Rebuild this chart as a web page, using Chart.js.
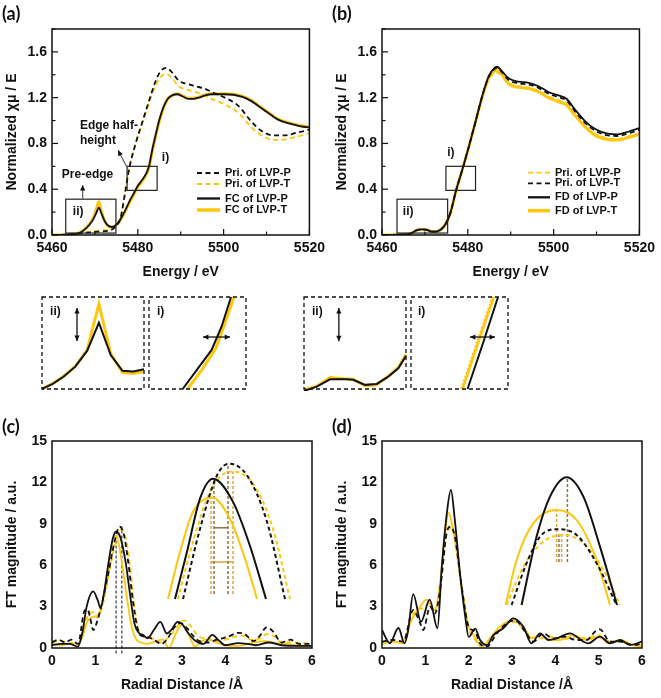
<!DOCTYPE html>
<html>
<head>
<meta charset="utf-8">
<script src="https://cdn.jsdelivr.net/npm/chart.js@4.4.0/dist/chart.umd.min.js"></script>
<style>
  body { margin: 0; background: #fff; }
  #fig { position: relative; width: 661px; height: 698px; background: #fff; overflow: hidden; }
  canvas { position: absolute; }
  .lab { position: absolute; font: bold 18px Lato, "Liberation Sans", sans-serif; color: #111; line-height: 20px; }
</style>
</head>
<body>
<div id="fig">
  <canvas id="ca" width="330" height="285" style="left:0px;top:0px"></canvas>
  <canvas id="cb" width="330" height="285" style="left:330px;top:0px"></canvas>
  <canvas id="ia2" width="106" height="96" style="left:40px;top:295px"></canvas>
  <canvas id="ia1" width="101" height="96" style="left:147px;top:295px"></canvas>
  <canvas id="ib2" width="106" height="96" style="left:302px;top:295px"></canvas>
  <canvas id="ib1" width="101" height="96" style="left:409px;top:295px"></canvas>
  <canvas id="cc" width="330" height="278" style="left:0px;top:420px"></canvas>
  <canvas id="cd" width="330" height="278" style="left:330px;top:420px"></canvas>
  <canvas id="cz" width="140" height="160" style="left:160px;top:450px"></canvas>
  <canvas id="dz" width="140" height="150" style="left:490px;top:465px"></canvas>
  <div class="lab" style="left:2px;top:3px">(a)</div>
  <div class="lab" style="left:332px;top:3px">(b)</div>
  <div class="lab" style="left:2px;top:416px">(c)</div>
  <div class="lab" style="left:332px;top:416px">(d)</div>
</div>
<script>
// ---------- (a) XANES: pristine vs fully charged
const aPriE = [5460, 5464, 5468, 5471, 5473.5, 5475, 5476, 5477, 5478, 5479.5, 5481, 5482.6, 5484.2, 5485.3, 5486.6, 5488, 5489.5, 5491.5, 5493.4, 5495.5, 5497.2, 5500.3, 5503.4, 5506.5, 5508.8, 5511.8, 5514.2, 5517.2, 5520]
const aPriP = [0, 0.005, 0.02, 0.03, 0.04, 0.08, 0.15, 0.36, 0.58, 0.80, 0.98, 1.17, 1.35, 1.43, 1.46, 1.42, 1.35, 1.32, 1.30, 1.28, 1.25, 1.20, 1.13, 0.99, 0.91, 0.87, 0.87, 0.895, 0.92]
const aPriT = [0, 0.005, 0.025, 0.04, 0.05, 0.09, 0.16, 0.37, 0.59, 0.80, 0.97, 1.15, 1.31, 1.38, 1.41, 1.37, 1.30, 1.27, 1.25, 1.22, 1.19, 1.14, 1.07, 0.94, 0.87, 0.83, 0.835, 0.86, 0.89]
const aFcE = [5460, 5464, 5466.5, 5468, 5469.5, 5470.3, 5470.9, 5471.5, 5472.3, 5473, 5474, 5475, 5476, 5477, 5478, 5479, 5480, 5481, 5482, 5482.6, 5483.4, 5484.2, 5484.9, 5486, 5487, 5488, 5489.2, 5490.5, 5491.8, 5493, 5494.2, 5495.7, 5497.2, 5500.3, 5504.2, 5506.5, 5508, 5509.5, 5511, 5512.6, 5515.7, 5518, 5520]
const aFcP = [0, 0.005, 0.02, 0.06, 0.13, 0.19, 0.24, 0.19, 0.12, 0.085, 0.07, 0.09, 0.14, 0.21, 0.29, 0.36, 0.43, 0.48, 0.54, 0.60, 0.75, 0.88, 0.99, 1.12, 1.19, 1.22, 1.23, 1.21, 1.19, 1.19, 1.20, 1.22, 1.23, 1.23, 1.21, 1.17, 1.13, 1.09, 1.05, 1.01, 0.97, 0.95, 0.94]
const aFcT = [0, 0.005, 0.02, 0.065, 0.14, 0.22, 0.29, 0.21, 0.12, 0.08, 0.065, 0.085, 0.135, 0.20, 0.28, 0.35, 0.42, 0.47, 0.53, 0.59, 0.74, 0.87, 0.98, 1.11, 1.19, 1.22, 1.235, 1.215, 1.195, 1.195, 1.205, 1.225, 1.235, 1.235, 1.215, 1.175, 1.135, 1.095, 1.055, 1.015, 0.975, 0.955, 0.945]

// ---------- (b) XANES: pristine vs fully discharged
const bE = [5460, 5464, 5466.5, 5468, 5469.3, 5470.5, 5471.5, 5472.6, 5473.8, 5474.9, 5476, 5477.2, 5478.8, 5480.3, 5481.8, 5483.4, 5484.9, 5486.1, 5486.8, 5488, 5489.5, 5491.8, 5494.2, 5496.5, 5498.8, 5501.1, 5503, 5504.9, 5507.2, 5509.5, 5512.6, 5514.9, 5517.2, 5520]
const bPriP = [0, 0.002, 0.01, 0.04, 0.05, 0.045, 0.03, 0.03, 0.05, 0.1, 0.2, 0.38, 0.58, 0.78, 0.99, 1.21, 1.36, 1.41, 1.42, 1.39, 1.33, 1.30, 1.29, 1.26, 1.21, 1.18, 1.15, 1.06, 0.96, 0.89, 0.845, 0.84, 0.86, 0.89]
const bPriT = [0, 0.002, 0.01, 0.04, 0.05, 0.045, 0.03, 0.03, 0.05, 0.1, 0.2, 0.38, 0.58, 0.78, 0.99, 1.22, 1.385, 1.445, 1.46, 1.42, 1.355, 1.325, 1.315, 1.285, 1.235, 1.205, 1.175, 1.085, 0.985, 0.915, 0.87, 0.865, 0.885, 0.92]
const bFdP = [0, 0.002, 0.01, 0.04, 0.05, 0.045, 0.03, 0.03, 0.05, 0.1, 0.2, 0.38, 0.58, 0.78, 0.99, 1.22, 1.39, 1.455, 1.47, 1.43, 1.37, 1.34, 1.33, 1.30, 1.25, 1.22, 1.19, 1.10, 1.00, 0.93, 0.885, 0.88, 0.90, 0.935]
const bFdT = [0, 0.002, 0.01, 0.04, 0.05, 0.045, 0.03, 0.03, 0.05, 0.1, 0.2, 0.38, 0.58, 0.78, 0.99, 1.21, 1.37, 1.43, 1.44, 1.40, 1.32, 1.29, 1.28, 1.25, 1.20, 1.165, 1.135, 1.05, 0.95, 0.875, 0.835, 0.83, 0.85, 0.88]

// ---------- zoomed boxes under (a) and (b)
const ia2E = [5465.5, 5466.5, 5467.5, 5468.6, 5469.7, 5470.8, 5471.9, 5473.0, 5474.0, 5475.0]
const ia2P = [0.064, 0.077, 0.096, 0.123, 0.165, 0.240, 0.154, 0.112, 0.110, 0.116]
const ia2T = [0.064, 0.078, 0.097, 0.124, 0.167, 0.290, 0.158, 0.107, 0.105, 0.110]
const ia1PE = [5479.93, 5480.94, 5482.02, 5482.74, 5483.42]
const ia1TE = [5480.29, 5481.30, 5482.33, 5482.98, 5483.63]
const ia1PV = [0.40, 0.441, 0.485, 0.536, 0.60]
const ia1TV = [0.40, 0.441, 0.489, 0.543, 0.60]
const ib2E = [5463, 5464.5, 5466.06, 5468.02, 5468.8, 5470.18, 5471.55, 5472.92, 5474.1, 5475]
const ib2P = [-0.004, 0.005, 0.021, 0.021, 0.020, 0.009, 0.011, 0.027, 0.045, 0.072]
const ib2T = [-0.002, 0.006, 0.025, 0.022, 0.021, 0.007, 0.009, 0.028, 0.047, 0.075]
const ib1PE = [5479.08, 5480.2, 5481.28]
const ib1TE = [5478.72, 5479.84, 5480.97]
const ib1PriE = [5478.6, 5479.72, 5480.86]
const ib1V = [0.4, 0.5, 0.6]

// ---------- (c) FT-EXAFS: pristine vs FC
const cFcPr = [0, 0.2, 0.4, 0.6, 0.7, 0.8, 0.95, 1.05, 1.12, 1.2, 1.3, 1.4, 1.48, 1.58, 1.7, 1.8, 1.9, 2.0, 2.1, 2.2, 2.35, 2.5, 2.65, 2.75, 2.9, 3.0, 3.15, 3.3, 3.5, 3.7, 3.85, 4.0, 4.3, 4.5, 4.7, 5.0, 5.3, 5.6, 6.0]
const cFcP = [0.2, 0.3, 0.3, 0.1, 1.1, 3.0, 4.1, 3.5, 2.9, 4.0, 6.1, 7.9, 8.45, 8.0, 6.2, 3.9, 1.8, 1.1, 0.95, 0.7, 1.3, 1.9, 1.05, 1.3, 1.9, 1.75, 1.05, 0.55, 0.3, 0.95, 0.55, 0.2, 0.35, 0.3, 0.2, 0.4, 0.2, 0.15, 0.15]
const cFcTr = [0, 0.2, 0.4, 0.6, 0.7, 0.8, 0.9, 1.0, 1.1, 1.2, 1.3, 1.4, 1.47, 1.55, 1.65, 1.75, 1.85, 1.95, 2.05, 2.2, 2.4, 2.55, 2.7, 2.85, 3.0, 3.15, 3.3, 3.45, 3.6, 3.8, 4.0, 4.3, 4.6, 4.9, 5.2, 5.6, 6.0]
const cFcT = [0.3, 0.2, 0.3, 0.3, 0.8, 1.8, 2.2, 2.3, 2.6, 3.9, 5.9, 7.8, 8.1, 7.4, 5.4, 3.2, 1.4, 0.6, 0.4, 0.3, 0.5, 0.6, 0.0, 1.0, 1.7, 1.0, 0.1, 0.5, 0.6, 0.4, 0.2, 0.15, 0.35, 0.5, 0.35, 0.2, 0.15]
const cPriPr = [0, 0.15, 0.3, 0.45, 0.6, 0.75, 0.82, 0.88, 0.95, 1.05, 1.15, 1.3, 1.45, 1.56, 1.66, 1.76, 1.86, 1.96, 2.05, 2.2, 2.4, 2.52, 2.65, 2.8, 2.95, 3.1, 3.25, 3.4, 3.6, 3.8, 4.05, 4.3, 4.45, 4.65, 4.8, 4.95, 5.1, 5.3, 5.5, 5.7, 6.0]
const cPriP = [0.4, 0.6, 0.4, 0.6, 0.3, 2.7, 2.8, 2.2, 1.3, 2.0, 3.2, 5.4, 7.8, 8.8, 8.2, 6.2, 3.6, 1.6, 0.9, 0.8, 0.5, 0.3, 0.6, 1.4, 1.8, 1.5, 0.9, 0.5, 0.4, 0.6, 0.8, 1.1, 1.0, 0.5, 0.9, 1.5, 1.2, 0.4, 0.6, 0.3, 0.3]
const cPriTr = [0, 0.2, 0.4, 0.6, 0.75, 0.85, 0.95, 1.05, 1.2, 1.35, 1.5, 1.6, 1.7, 1.8, 1.9, 2.0, 2.15, 2.3, 2.5, 2.7, 2.9, 3.05, 3.2, 3.4, 3.6, 3.8, 4.0, 4.2, 4.4, 4.6, 4.8, 4.95, 5.1, 5.3, 5.6, 6.0]
const cPriT = [0.5, 0.5, 0.4, 0.3, 1.5, 2.5, 2.6, 2.2, 3.5, 6.0, 8.0, 8.6, 8.0, 6.0, 3.1, 1.3, 0.8, 0.7, 0.4, 0.8, 1.6, 2.0, 1.6, 0.8, 0.7, 0.5, 0.6, 0.8, 0.9, 0.6, 0.7, 1.0, 0.9, 0.4, 0.4, 0.3]
const cPeakR = [1.48, 1.61]
const cPeakF = [8.45, 8.8]

// (c) zoom of first shell peak
const czFcPr = [1.275, 1.335, 1.40, 1.465, 1.565, 1.65, 1.73]
const czFcP = [6.2, 7.055, 8.02, 8.38, 7.96, 7.16, 6.2]
const czFcTr = [1.24, 1.30, 1.365, 1.46, 1.55, 1.625, 1.685]
const czFcT = [6.2, 7.05, 7.78, 8.04, 7.65, 6.93, 6.2]
const czPriPr = [1.315, 1.40, 1.485, 1.545, 1.635, 1.735, 1.825]
const czPriP = [6.2, 7.47, 8.44, 8.65, 8.44, 7.6, 6.2]
const czPriTr = [1.29, 1.365, 1.465, 1.565, 1.665, 1.765, 1.85]
const czPriT = [6.2, 7.24, 8.25, 8.51, 8.29, 7.47, 6.2]
const czMarkR = [1.455, 1.47, 1.54, 1.565]
const czMarkF = [8.04, 8.38, 8.65, 8.51]

// ---------- (d) FT-EXAFS: pristine vs FD
const dFdPr = [0, 0.18, 0.38, 0.52, 0.6, 0.72, 0.9, 1.1, 1.28, 1.38, 1.49, 1.59, 1.68, 1.8, 1.92, 2.0, 2.15, 2.26, 2.42, 2.57, 2.8, 3.03, 3.26, 3.45, 3.65, 3.84, 4.03, 4.34, 4.65, 4.76, 5.03, 5.26, 5.5, 5.72, 6.0]
const dFdP = [1.3, 0.34, 1.45, 0.34, 1.2, 3.9, 1.9, 3.5, 1.43, 5.9, 9.6, 11.45, 9.3, 5.4, 2.3, 0.8, 1.4, 0.6, 0.2, 0.94, 1.43, 2.15, 1.55, 0.34, 1.06, 0.58, 0.7, 1.06, 0.46, 0.34, 0.82, 0.34, 0.58, 0.22, 0.46]
const dFdTr = [0, 0.26, 0.49, 0.65, 0.88, 1.03, 1.22, 1.34, 1.45, 1.53, 1.68, 1.84, 2.0, 2.15, 2.3, 2.49, 2.72, 3.03, 3.26, 3.45, 3.65, 3.88, 4.1, 4.42, 4.72, 4.99, 5.26, 5.5, 5.8, 6.0]
const dFdT = [0.34, 0.46, 0.34, 1.8, 3.0, 3.5, 2.75, 4.7, 8.1, 9.8, 7.8, 4.4, 1.55, 0.8, 0.1, 0.7, 1.55, 2.0, 1.55, 0.7, 0.94, 0.58, 0.58, 0.94, 0.58, 0.82, 0.34, 0.58, 0.2, 0.1]
const dPriTr = [0, 0.26, 0.49, 0.72, 0.88, 0.95, 1.11, 1.22, 1.34, 1.49, 1.58, 1.68, 1.84, 2.0, 2.15, 2.26, 2.42, 2.65, 2.88, 3.07, 3.3, 3.5, 3.72, 3.95, 4.22, 4.48, 4.72, 4.92, 5.03, 5.26, 5.5, 5.8, 6.0]
const dPriT = [0.46, 0.58, 0.46, 2.75, 1.8, 1.3, 3.0, 2.5, 4.2, 8.3, 8.8, 8.1, 4.4, 1.55, 1.2, 0.34, 0.1, 1.06, 1.8, 2.0, 1.2, 0.46, 1.06, 0.7, 0.82, 0.58, 0.58, 1.2, 1.35, 0.46, 0.46, 0.2, 0.34]
const dPriPr = [0, 0.26, 0.49, 0.65, 0.8, 0.95, 1.07, 1.22, 1.34, 1.49, 1.58, 1.68, 1.84, 2.0, 2.15, 2.3, 2.53, 2.76, 3.03, 3.26, 3.45, 3.65, 3.88, 4.15, 4.42, 4.72, 4.99, 5.26, 5.5, 5.8, 6.0]
const dPriP = [0.3, 0.46, 0.34, 2.0, 2.75, 2.9, 3.2, 2.75, 4.4, 8.3, 8.7, 8.1, 4.4, 1.4, 0.6, 0.1, 0.7, 1.43, 1.9, 1.43, 0.82, 0.7, 0.82, 0.58, 0.82, 0.7, 0.94, 0.46, 0.46, 0.2, 0.2]

// (d) zoom of first shell peak
const dzFdPr = [1.358, 1.433, 1.50, 1.583, 1.667, 1.75, 1.835]
const dzFdP = [5.05, 8.47, 10.47, 11.44, 10.47, 7.97, 5.05]
const dzFdTr = [1.278, 1.333, 1.417, 1.533, 1.633, 1.733, 1.80]
const dzFdT = [5.05, 7.3, 9.14, 9.8, 9.3, 7.3, 5.05]
const dzPriTr = [1.308, 1.383, 1.45, 1.533, 1.633, 1.733, 1.833]
const dzPriT = [5.05, 7.14, 8.47, 8.84, 8.55, 7.14, 5.05]
const dzPriPr = [1.283, 1.367, 1.467, 1.567, 1.667, 1.767, 1.85]
const dzPriP = [5.05, 6.97, 8.22, 8.55, 8.14, 6.8, 5.05]
const dzMarkR = [1.533, 1.545, 1.558, 1.587]
const dzMarkF = [9.8, 8.7, 8.55, 11.44]

const INK = '#111111'
const GOLD = '#FFC60B'
const ORANGE = '#E2A33E'
const BROWN = '#8F7444'
const GRAY = '#6a6a6a'
const DASH = [5, 3.5]

Chart.defaults.font.family = '"Liberation Sans", Arial, sans-serif'
Chart.defaults.color = INK

const tickFont = { family: '"Liberation Sans", Arial, sans-serif', size: 14, weight: 'bold' }
const titleFont = { family: '"Liberation Sans", Arial, sans-serif', size: 14, weight: 'bold' }

function pts(xs, ys) {
  return xs.map((x, i) => ({ x: x, y: ys[i] }))
}

function curve(label, xs, ys, color, width, dash) {
  return {
    label: label, data: pts(xs, ys), borderColor: color, borderWidth: width,
    borderDash: dash || [], pointRadius: 0, fill: false, cubicInterpolationMode: 'monotone'
  }
}

function poly(label, xs, ys, color, width, dash) {
  return {
    label: label, data: pts(xs, ys), borderColor: color, borderWidth: width,
    borderDash: dash || [], pointRadius: 0, fill: false, tension: 0, clip: false
  }
}

// drop lines from the peak tops (one dataset per marker)
function drops(xs, tops, base, colors, width) {
  return xs.map((x, i) => poly('', [x, x], [base, tops[i]], colors[i % colors.length], width, [3, 2]))
}

// extra drawing per canvas: frame, inward ticks, boxes, arrows, texts, legend
const decoCfg = {}

function arrowHead(ctx, x, y, fx, fy) {
  const ang = Math.atan2(y - fy, x - fx)
  ctx.fillStyle = INK
  ctx.beginPath()
  ctx.moveTo(x, y)
  ctx.lineTo(x - 6 * Math.cos(ang - 0.45), y - 6 * Math.sin(ang - 0.45))
  ctx.lineTo(x - 6 * Math.cos(ang + 0.45), y - 6 * Math.sin(ang + 0.45))
  ctx.closePath()
  ctx.fill()
}

const deco = {
  id: 'deco',
  afterDraw(chart) {
    const o = decoCfg[chart.canvas.id]
    if (!o) return
    const ctx = chart.ctx, a = chart.chartArea
    const sx = chart.scales.x, sy = chart.scales.y
    const px = v => sx.getPixelForValue(v)
    const py = v => sy.getPixelForValue(v)
    ctx.save()

    ;(o.boxes || []).forEach(b => {
      ctx.strokeStyle = '#222'
      ctx.lineWidth = 1.2
      ctx.setLineDash([])
      ctx.strokeRect(px(b[0]), py(b[3]), px(b[1]) - px(b[0]), py(b[2]) - py(b[3]))
    })

    ;(o.arrows || []).forEach(r => {
      const x0 = px(r[0]), y0 = py(r[1]), x1 = px(r[2]), y1 = py(r[3])
      ctx.strokeStyle = r[5] || '#666'
      ctx.lineWidth = 1.3
      ctx.setLineDash([])
      ctx.beginPath()
      ctx.moveTo(x0, y0)
      ctx.lineTo(x1, y1)
      ctx.stroke()
      arrowHead(ctx, x1, y1, x0, y0)
      if (r[4]) arrowHead(ctx, x0, y0, x1, y1)
    })

    ctx.fillStyle = INK
    ctx.textAlign = 'left'
    ctx.textBaseline = 'middle'
    ;(o.texts || []).forEach(t => {
      ctx.font = t[3] || 'bold 12px "Liberation Sans", Arial, sans-serif'
      ctx.fillText(t[2], px(t[0]), py(t[1]))
    })

    if (o.legend) {
      const L = o.legend
      ctx.font = 'bold 11px "Liberation Sans", Arial, sans-serif'
      L.items.forEach((di, i) => {
        const ds = chart.data.datasets[di]
        const y = a.top + L.rows[i]
        ctx.strokeStyle = ds.borderColor
        ctx.lineWidth = ds.borderWidth + (ds.borderDash.length ? 0 : 0.5)
        ctx.setLineDash(ds.borderDash)
        ctx.beginPath()
        ctx.moveTo(a.left + L.x, y)
        ctx.lineTo(a.left + L.x + L.len, y)
        ctx.stroke()
        ctx.fillStyle = INK
        ctx.fillText(ds.label, a.left + L.x + L.len + 5, y)
      })
    }

    ctx.strokeStyle = INK
    ctx.lineWidth = o.frame || 1.5
    ctx.setLineDash(o.frameDash || [])
    ctx.strokeRect(a.left, a.top, a.right - a.left, a.bottom - a.top)

    if (o.minor) {
      ctx.setLineDash([])
      ctx.lineWidth = 1.2
      const majX = sx.ticks.map(t => t.value), majY = sy.ticks.map(t => t.value)
      const nx = Math.round((sx.max - sx.min) / o.minor[0])
      for (let i = 0; i <= nx; i++) {
        const v = sx.min + i * o.minor[0]
        const big = majX.some(m => Math.abs(m - v) < 1e-6)
        ctx.beginPath()
        ctx.moveTo(px(v), a.bottom)
        ctx.lineTo(px(v), a.bottom - (big ? 6 : 3.5))
        ctx.stroke()
      }
      const ny = Math.round((sy.max - sy.min) / o.minor[1])
      for (let i = 0; i <= ny; i++) {
        const v = sy.min + i * o.minor[1]
        const big = majY.some(m => Math.abs(m - v) < 1e-6)
        ctx.beginPath()
        ctx.moveTo(a.left, py(v))
        ctx.lineTo(a.left + (big ? 6 : 3.5), py(v))
        ctx.stroke()
      }
    }
    ctx.restore()
  }
}
Chart.register(deco)

function axisX(min, max, step, title, fmt) {
  return {
    type: 'linear', min: min, max: max,
    grid: { display: false, drawTicks: false }, border: { display: false },
    ticks: { stepSize: step, padding: 5, autoSkip: false, maxRotation: 0, includeBounds: false, font: tickFont, color: INK, callback: fmt },
    title: { display: true, text: title, font: titleFont, color: INK, padding: { top: 0, bottom: 4 } },
    afterFit: s => { s.height = 50 }
  }
}

function axisY(min, max, step, title, fmt) {
  return {
    type: 'linear', min: min, max: max,
    grid: { display: false, drawTicks: false }, border: { display: false },
    ticks: { stepSize: step, padding: 5, autoSkip: false, includeBounds: false, font: tickFont, color: INK, callback: fmt },
    title: { display: true, text: title, font: titleFont, color: INK, padding: { top: 4, bottom: 4 } },
    afterFit: s => { s.width = 52 }
  }
}

function hidden(min, max) {
  return { type: 'linear', display: false, min: min, max: max }
}

function makeChart(id, datasets, xs, ys, padding) {
  return new Chart(document.getElementById(id), {
    type: 'line',
    data: { datasets: datasets },
    options: {
      responsive: false, animation: false, devicePixelRatio: 1,
      layout: { padding: padding },
      plugins: { legend: { display: false }, tooltip: { enabled: false } },
      scales: { x: xs, y: ys }
    }
  })
}

const fmtInt = v => String(v)
const fmt1 = v => v.toFixed(1)

// ----- (a)
decoCfg.ca = {
  frame: 1.5, minor: [10, 0.2],
  boxes: [[5477.5, 5484.5, 0.39, 0.6], [5463.2, 5474.9, 0.017, 0.313]],
  arrows: [[5477.5, 0.59, 5475.4, 0.74, false], [5467.15, 0.313, 5467.15, 0.435, false]],
  texts: [[5466.5, 0.957, 'Edge half-'], [5466.5, 0.826, 'height'], [5462.3, 0.53, 'Pre-edge'], [5485.6, 0.678, 'i)'], [5464.85, 0.2, 'ii)']],
  legend: { x: 145, len: 23, rows: [144, 155, 169.5, 181], items: [1, 3, 0, 2] }
}
makeChart('ca', [
  curve('FC of LVP-P', aFcE, aFcP, INK, 1.8),
  curve('Pri. of LVP-P', aPriE, aPriP, INK, 1.8, DASH),
  curve('FC of LVP-T', aFcE, aFcT, GOLD, 3),
  curve('Pri. of LVP-T', aPriE, aPriT, GOLD, 1.8, DASH)
], axisX(5460, 5520, 20, 'Energy / eV', fmtInt), axisY(0, 1.8, 0.4, 'Normalized χμ / E', fmt1), { top: 29, right: 18, left: 0, bottom: 0 })

// ----- (b)
decoCfg.cb = {
  frame: 1.5, minor: [10, 0.2],
  boxes: [[5474.9, 5481.8, 0.39, 0.6], [5463.5, 5475.3, 0.017, 0.313]],
  texts: [[5475.2, 0.72, 'i)'], [5464.85, 0.2, 'ii)']],
  legend: { x: 146, len: 22, rows: [143.7, 154.3, 168.3, 181.7], items: [3, 1, 0, 2] }
}
makeChart('cb', [
  curve('FD of LVP-P', bE, bFdP, INK, 1.8),
  curve('Pri. of LVP-T', bE, bPriT, INK, 1.8, DASH),
  curve('FD of LVP-T', bE, bFdT, GOLD, 3),
  curve('Pri. of LVP-P', bE, bPriP, GOLD, 1.8, DASH)
], axisX(5460, 5520, 20, 'Energy / eV', fmtInt), axisY(0, 1.8, 0.4, 'Normalized χμ / E', fmt1), { top: 29, right: 18, left: 0, bottom: 0 })

// ----- zoomed boxes
decoCfg.ia2 = { frame: 1.3, frameDash: [4, 3], arrows: [[5468.76, 0.2793, 5468.76, 0.1914, true, INK]], texts: [[5466.25, 0.2686, 'ii)']] }
makeChart('ia2', [
  poly('FC of LVP-P', ia2E, ia2P, INK, 2),
  poly('FC of LVP-T', ia2E, ia2T, GOLD, 3)
], hidden(5465.5, 5475), hidden(0.0635, 0.3086), 2)

decoCfg.ia1 = { frame: 1.3, frameDash: [4, 3], arrows: [[5481.4, 0.513, 5483.35, 0.513, true, INK]], texts: [[5478.08, 0.567, 'i)']] }
makeChart('ia1', [
  poly('FC of LVP-P', ia1PE, ia1PV, INK, 2),
  poly('FC of LVP-T', ia1TE, ia1TV, GOLD, 3)
], hidden(5477.5, 5484.5), hidden(0.4, 0.6), 2)

decoCfg.ib2 = { frame: 1.3, frameDash: [4, 3], arrows: [[5467.1, 0.176, 5467.1, 0.104, true, INK]], texts: [[5463.94, 0.167, 'ii)']] }
makeChart('ib2', [
  poly('FD of LVP-P', ib2E, ib2P, INK, 2),
  poly('FD of LVP-T', ib2E, ib2T, GOLD, 3)
], hidden(5463, 5475), hidden(0, 0.2), 2)

decoCfg.ib1 = { frame: 1.3, frameDash: [4, 3], arrows: [[5479.26, 0.513, 5481.06, 0.513, true, INK]], texts: [[5475.5, 0.567, 'i)']] }
makeChart('ib1', [
  poly('FD of LVP-P', ib1PE, ib1V, INK, 2),
  poly('FD of LVP-T', ib1TE, ib1V, GOLD, 2.5),
  poly('Pri. of LVP-P', ib1PriE, ib1V, GOLD, 1.5, [2, 2])
], hidden(5475, 5482), hidden(0.4, 0.6), 2)

// ----- (c)
decoCfg.cc = { frame: 1.5 }
makeChart('cc', [
  curve('FC of LVP-P', cFcPr, cFcP, INK, 1.8),
  curve('Pri. of LVP-P', cPriPr, cPriP, INK, 1.8, DASH),
  curve('FC of LVP-T', cFcTr, cFcT, GOLD, 1.8),
  curve('Pri. of LVP-T', cPriTr, cPriT, GOLD, 1.8, DASH)
].concat(drops(cPeakR, cPeakF, -0.4, [GRAY], 1.6)),
axisX(0, 6, 1, 'Radial Distance /Å', fmtInt), axisY(0, 15, 3, 'FT magnitude / a.u.', fmtInt), { top: 21, right: 18, left: 0, bottom: 0 })

makeChart('cz', [
  curve('FC of LVP-P', czFcPr, czFcP, INK, 2),
  curve('Pri. of LVP-P', czPriPr, czPriP, INK, 2, [4, 3]),
  curve('FC of LVP-T', czFcTr, czFcT, GOLD, 2),
  curve('Pri. of LVP-T', czPriTr, czPriT, GOLD, 2, [4, 3])
].concat(drops(czMarkR, czMarkF, 6.29, [ORANGE, BROWN, BROWN, ORANGE], 1.5)).concat([
  poly('', [1.47, 1.54], [7.49, 7.49], BROWN, 1.5),
  poly('', [1.455, 1.565], [6.87, 6.87], ORANGE, 1.5)
]), hidden(1.2, 1.9), hidden(6.0, 8.9), 0)

// ----- (d)
decoCfg.cd = { frame: 1.5 }
makeChart('cd', [
  curve('FD of LVP-P', dFdPr, dFdP, INK, 1.8),
  curve('Pri. of LVP-T', dPriTr, dPriT, INK, 1.8, DASH),
  curve('FD of LVP-T', dFdTr, dFdT, GOLD, 1.8),
  curve('Pri. of LVP-P', dPriPr, dPriP, GOLD, 1.8, DASH)
], axisX(0, 6, 1, 'Radial Distance /Å', fmtInt), axisY(0, 15, 3, 'FT magnitude / a.u.', fmtInt), { top: 21, right: 18, left: 0, bottom: 0 })

makeChart('dz', [
  curve('FD of LVP-P', dzFdPr, dzFdP, INK, 2),
  curve('Pri. of LVP-T', dzPriTr, dzPriT, INK, 2, [4, 3]),
  curve('FD of LVP-T', dzFdTr, dzFdT, GOLD, 2),
  curve('Pri. of LVP-P', dzPriPr, dzPriP, GOLD, 2, [4, 3])
].concat(drops(dzMarkR, dzMarkF, 7.2, [ORANGE, BROWN, ORANGE, BROWN], 1.5)), hidden(1.2, 1.9), hidden(4.55, 12.05), 0)
</script>
</body>
</html>
